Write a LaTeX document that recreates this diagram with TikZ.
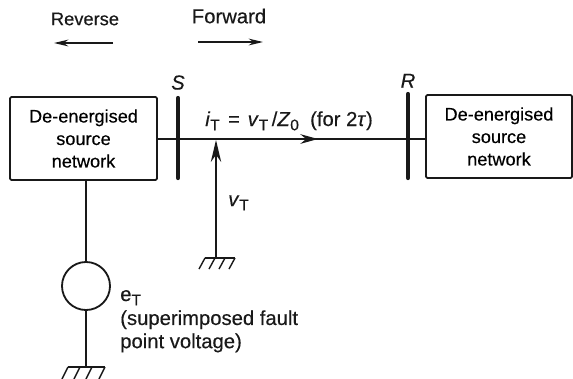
\documentclass[tikz,border=0pt]{standalone}
\usepackage{fontspec}
\setmainfont{Liberation Sans}[RawFeature={embolden=0.35}]
\usetikzlibrary{arrows.meta,positioning,calc}
\newcommand{\subT}{\raisebox{-0.4ex}{\fontsize{11}{12}\selectfont T}}
\tikzset{
  wire/.style={line width=1.3pt, black!90},
  thinwire/.style={line width=1pt, black!90},
  busbar/.style={line width=3pt, black!90, line cap=round},
  netbox/.style={draw=black!90, line width=1.3pt, rounded corners=1pt, align=center, inner sep=0pt, font=\fontsize{12.9}{16}\selectfont},
  lbl/.style={font=\fontsize{14.4}{16.5}\selectfont, inner sep=0pt, text=black!90},
  bigtip/.style={-{Stealth[length=4.4mm, width=2.4mm]}},
  dirtip/.style={-{Stealth[length=3.6mm, width=1.7mm]}, line width=1pt, black!90}
}
\begin{document}
\begin{tikzpicture}[x=0.025cm, y=-0.025cm]
\useasboundingbox (0,0) rectangle (573,378);
% source networks
\node[netbox, minimum width=3.675cm, minimum height=2.075cm] (leftnet) at (83.5,138.5)
  {De-energised\\source\\network};
\node[netbox, minimum width=3.65cm, minimum height=2.075cm] (rightnet) at (499,136.5)
  {De-energised\\source\\network};
% busbars
\coordinate (Stop) at (178,98);
\coordinate (Sbot) at (178,178);
\coordinate (Rtop) at (408,94);
\coordinate (Rbot) at (408,178);
\draw[busbar] (Stop) -- (Sbot);
\draw[busbar] (Rtop) -- (Rbot);
\node[lbl, anchor=south] (Slabel) at (178,90) {\textit{S}};
\node[lbl, anchor=south] (Rlabel) at (408,88) {\textit{R}};
% line
\coordinate (lineS) at (157,139);
\coordinate (lineR) at (426,139);
\coordinate (midtip) at (318,139);
\coordinate (midtail) at (296,139);
\draw[wire] (lineS) -- (lineR);
\draw[wire, bigtip] (midtail) -- (midtip);
\node[lbl, anchor=base west] (current) at (205,126)
  {\textit{i}\subT\hspace{2pt}\ =\ \hspace{1.5pt}\textit{v}\subT\hspace{2.5pt}/\textit{Z}\raisebox{-0.4ex}{\fontsize{11}{12}\selectfont 0} \ (for 2\textit{τ})};
% injected voltage
\coordinate (vgnd) at (216,257);
\coordinate (vtip) at (216,140);
\draw[thinwire, -{Stealth[length=5.5mm, width=2.6mm]}] (vgnd) -- (vtip);
\node[lbl, anchor=base west] (vlabel) at (228,206) {\textit{v}\subT};
\foreach \x in {205,215,225,235} {
  \draw[thinwire] (\x,258) -- (\x-6,269);
}
\draw[thinwire] (205,258) -- (235,258);
% fault point source
\node[draw=black!90, line width=1.3pt, circle, minimum size=1.2cm, inner sep=0pt] (source) at (86,286) {};
\coordinate (sgnd) at (86,367);
\draw[wire] (86,180) -- (source.north);
\draw[wire] (source.south) -- (sgnd);
\node[lbl, anchor=base west] (elabel) at (120,301) {e\subT};
\node[lbl, anchor=north west, align=left] (fault) at (120,310)
  {(superimposed fault\\point voltage)};
\foreach \x in {68,80,92,105} {
  \draw[thinwire] (\x,367) -- (\x-6,379);
}
\draw[thinwire] (68,367) -- (105,367);
% direction arrows
\node[lbl, font=\fontsize{13}{16}\selectfont] (reverse) at (85,19) {Reverse};
\node[lbl] (forward) at (229,16) {Forward};
\coordinate (revtail) at (113,43);
\coordinate (revhead) at (54,43);
\coordinate (fwdtail) at (198,42);
\coordinate (fwdhead) at (263,42);
\draw[dirtip] (revtail) -- (revhead);
\draw[dirtip] (fwdtail) -- (fwdhead);
\end{tikzpicture}
\end{document}
